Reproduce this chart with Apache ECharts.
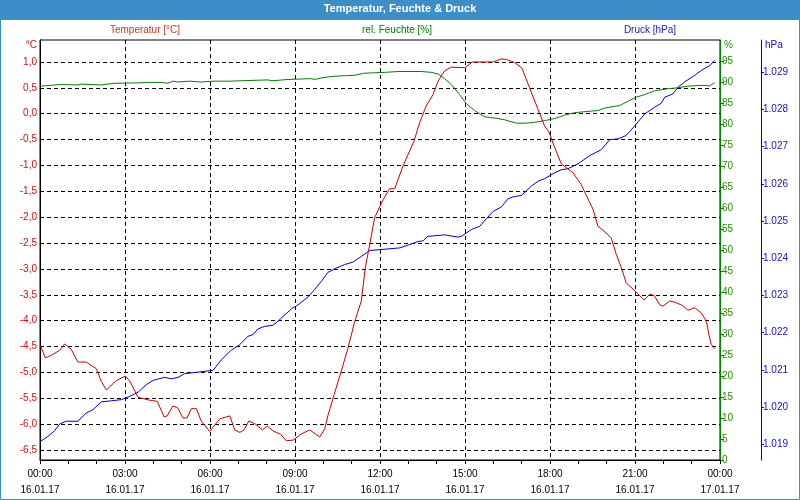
<!DOCTYPE html>
<html>
<head>
<meta charset="utf-8">
<script src="https://cdn.jsdelivr.net/npm/echarts@6/dist/echarts.min.js"></script>
<style>
html,body{margin:0;padding:0;background:#fff;}
#chart{width:800px;height:500px;}
</style>
</head>
<body>
<div id="chart"></div>
<script>
// ---- data (hour of day, value) ----
var temperature = [[0.02,-4.49],[0.19,-4.72],[0.40,-4.67],[0.70,-4.57],[0.87,-4.45],[1.10,-4.55],[1.34,-4.80],[1.63,-4.80],[1.99,-4.93],[2.16,-5.17],[2.34,-5.34],[2.69,-5.16],[3.01,-5.07],[3.17,-5.17],[3.46,-5.48],[3.81,-5.53],[4.14,-5.56],[4.38,-5.86],[4.49,-5.84],[4.69,-5.65],[4.85,-5.68],[5.05,-5.88],[5.19,-5.88],[5.34,-5.70],[5.52,-5.70],[5.69,-5.94],[5.99,-6.14],[6.34,-5.90],[6.70,-5.84],[6.87,-6.11],[7.05,-6.16],[7.20,-6.11],[7.37,-5.94],[7.58,-5.99],[7.85,-6.11],[8.02,-6.04],[8.22,-6.13],[8.50,-6.20],[8.69,-6.32],[8.93,-6.31],[9.22,-6.19],[9.52,-6.11],[9.87,-6.25],[10.05,-6.09],[10.17,-5.82],[10.38,-5.43],[10.63,-4.98],[10.87,-4.53],[11.11,-4.01],[11.34,-3.62],[11.48,-2.98],[11.66,-2.46],[11.81,-2.01],[11.99,-1.80],[12.11,-1.66],[12.34,-1.45],[12.52,-1.45],[12.81,-1.01],[13.20,-0.53],[13.40,-0.17],[13.63,0.15],[13.87,0.37],[14.05,0.63],[14.28,0.83],[14.52,0.90],[14.99,0.89],[15.26,1.00],[15.99,1.00],[16.28,1.06],[16.46,1.05],[16.75,0.99],[17.01,0.88],[17.28,0.50],[17.58,0.08],[17.81,-0.24],[17.96,-0.35],[18.17,-0.66],[18.40,-0.97],[18.81,-1.14],[19.10,-1.37],[19.52,-1.85],[19.69,-2.17],[19.91,-2.27],[20.16,-2.40],[20.34,-2.72],[20.52,-2.98],[20.69,-3.27],[21.01,-3.43],[21.32,-3.60],[21.52,-3.49],[21.67,-3.51],[21.87,-3.69],[21.99,-3.72],[22.22,-3.62],[22.40,-3.64],[22.69,-3.71],[22.87,-3.80],[23.11,-3.75],[23.34,-3.85],[23.52,-4.01],[23.61,-4.27],[23.69,-4.46],[23.81,-4.54]];

var humidity = [[0,89.0],[0.74,89.4],[1.34,89.3],[1.45,89.5],[2.15,89.3],[2.64,89.7],[3.56,89.8],[3.70,89.9],[4.27,89.9],[4.52,89.7],[4.69,90.2],[4.87,90.0],[5.28,90.2],[5.69,90.0],[6.11,90.2],[6.74,90.2],[7.09,90.3],[8.05,90.5],[8.15,90.3],[8.40,90.4],[8.75,90.6],[9.56,90.8],[9.69,90.6],[9.92,90.95],[10.27,91.3],[10.75,91.5],[11.11,91.6],[11.46,92.1],[11.81,92.2],[12.20,92.3],[12.64,92.5],[13.46,92.5],[13.81,92.3],[14.05,91.9],[14.28,90.8],[14.52,89.4],[14.81,87.0],[15.05,84.8],[15.34,83.2],[15.69,81.7],[16.16,81.3],[16.40,81.0],[16.81,80.2],[17.16,80.2],[17.46,80.4],[17.81,80.8],[18.17,81.3],[18.52,82.1],[18.87,82.7],[19.34,83.0],[19.69,83.2],[19.93,83.8],[20.46,84.4],[20.75,85.4],[21.05,86.4],[21.34,87.0],[21.69,87.9],[22.05,88.3],[22.46,88.6],[22.87,89.0],[23.34,89.2],[23.64,89.1],[23.81,89.8]];

var pressure = [[0.02,1.01908],[0.28,1.01921],[0.52,1.01937],[0.70,1.01955],[0.93,1.01962],[1.34,1.01962],[1.63,1.01984],[1.87,1.01993],[2.16,1.02014],[2.52,1.02017],[2.87,1.02020],[3.17,1.02029],[3.46,1.02040],[3.75,1.02060],[3.99,1.02072],[4.40,1.02080],[4.63,1.02076],[4.87,1.02080],[5.11,1.02090],[5.58,1.02094],[6.11,1.02099],[6.40,1.02127],[6.75,1.02153],[7.05,1.02168],[7.34,1.02190],[7.52,1.02195],[7.69,1.02210],[7.93,1.02217],[8.22,1.02220],[8.40,1.02231],[8.87,1.02264],[9.11,1.02275],[9.46,1.02296],[9.69,1.02316],[9.93,1.02338],[10.16,1.02362],[10.40,1.02372],[10.75,1.02383],[11.05,1.02390],[11.34,1.02405],[11.64,1.02421],[12.11,1.02424],[12.70,1.02428],[13.05,1.02437],[13.34,1.02445],[13.52,1.02447],[13.69,1.02459],[14.28,1.02463],[14.75,1.02457],[14.87,1.02459],[15.22,1.02477],[15.52,1.02486],[15.75,1.02506],[15.99,1.02526],[16.28,1.02538],[16.52,1.02560],[16.69,1.02565],[16.99,1.02569],[17.34,1.02594],[17.58,1.02607],[17.81,1.02614],[18.17,1.02630],[18.40,1.02638],[18.64,1.02641],[18.99,1.02654],[19.40,1.02676],[19.81,1.02692],[20.11,1.02719],[20.40,1.02721],[20.69,1.02730],[20.99,1.02756],[21.34,1.02788],[21.69,1.02806],[21.93,1.02817],[22.05,1.02833],[22.34,1.02842],[22.52,1.02860],[22.75,1.02874],[23.11,1.02892],[23.34,1.02905],[23.64,1.02918],[23.81,1.02932]];

// ---- tick labels ----
var timeLabels = ['00:00','03:00','06:00','09:00','12:00','15:00','18:00','21:00','00:00'];
var dateLabels = ['16.01.17','16.01.17','16.01.17','16.01.17','16.01.17','16.01.17','16.01.17','16.01.17','17.01.17'];
var tempTicks = [-6.5,-6.0,-5.5,-5.0,-4.5,-4.0,-3.5,-3.0,-2.5,-2.0,-1.5,-1.0,-0.5,0.0,0.5,1.0];
var pressTicks = [1.019,1.020,1.021,1.022,1.023,1.024,1.025,1.026,1.027,1.028,1.029];

var FONT = 'Liberation Sans';
var RED = '#cc0000', REDTXT = '#d01010';
var GREEN = '#008000', GREENTXT = '#2a8a00';
var BLUE = '#0000cc', BLUETXT = '#1010cc';
var BAR = '#3c8fc6';

var chart = echarts.init(document.getElementById('chart'), null, {renderer: 'canvas'});
chart.setOption({
  animation: false,
  backgroundColor: '#fff',
  textStyle: {fontFamily: FONT},
  graphic: [
    {type: 'rect', z: -10, silent: true, shape: {x: 0, y: 0, width: 800, height: 20}, style: {fill: BAR}},
    {type: 'rect', z: -10, silent: true, shape: {x: 0.5, y: 0.5, width: 799, height: 499}, style: {fill: 'none', stroke: BAR, lineWidth: 1}}
  ],
  title: [
    {text: 'Temperatur, Feuchte & Druck', left: 400, textAlign: 'center', top: 3, padding: 0,
     textStyle: {color: '#fff', fontSize: 11, fontWeight: 'bold', fontFamily: FONT}},
    {text: 'Temperatur [°C]', left: 145, textAlign: 'center', top: 25, padding: 0,
     textStyle: {color: '#c83a1a', fontSize: 10, fontWeight: 'normal', fontFamily: FONT}},
    {text: 'rel. Feuchte [%]', left: 397, textAlign: 'center', top: 25, padding: 0,
     textStyle: {color: GREEN, fontSize: 10, fontWeight: 'normal', fontFamily: FONT}},
    {text: 'Druck [hPa]', left: 650, textAlign: 'center', top: 25, padding: 0,
     textStyle: {color: '#1a1ab0', fontSize: 10, fontWeight: 'normal', fontFamily: FONT}}
  ],
  grid: {left: 40, right: 80, top: 40, bottom: 40, show: true, borderColor: '#000', borderWidth: 1, backgroundColor: 'transparent'},
  xAxis: {
    type: 'value', min: 0, max: 24, interval: 3,
    axisLine: {onZero: false, lineStyle: {color: '#000', width: 1}},
    axisTick: {show: true, length: 4, lineStyle: {color: '#000'}},
    minorTick: {show: true, splitNumber: 3, length: 4, lineStyle: {color: '#000'}},
    splitLine: {show: true, lineStyle: {color: '#000', type: [4, 3], width: 1}},
    axisLabel: {
      margin: 6, color: '#000', fontSize: 10, fontFamily: FONT, lineHeight: 16,
      formatter: function (v) { var i = Math.round(v / 3); return timeLabels[i] + '\n' + dateLabels[i]; }
    }
  },
  yAxis: [
    {
      type: 'value', position: 'left', min: -6.693, max: 1.4255,
      name: '°C', nameLocation: 'end', nameGap: -5,
      nameTextStyle: {color: REDTXT, fontSize: 10, fontFamily: FONT, align: 'right', verticalAlign: 'middle', padding: [0, 3, 0, 0]},
      axisLine: {show: true, onZero: false, lineStyle: {color: '#000'}},
      axisTick: {show: false, customValues: tempTicks},
      splitLine: {show: true, lineStyle: {color: '#000', type: [4, 3], width: 1}},
      axisLabel: {customValues: tempTicks, margin: 3, color: REDTXT, fontSize: 10, fontFamily: FONT,
        formatter: function (v) { return v.toFixed(1).replace('.', ','); }}
    },
    {
      type: 'value', position: 'right', offset: 0, min: 0, max: 100, interval: 5,
      name: '%', nameLocation: 'end', nameGap: -5,
      nameTextStyle: {color: GREENTXT, fontSize: 10, fontFamily: FONT, align: 'left', verticalAlign: 'middle', padding: [0, 0, 0, 4]},
      axisLine: {show: true, onZero: false, lineStyle: {color: GREEN, width: 1}},
      axisTick: {show: true, length: 4, lineStyle: {color: GREEN}},
      splitLine: {show: false},
      axisLabel: {margin: 2, color: GREENTXT, fontSize: 10, fontFamily: FONT, showMaxLabel: false,
        formatter: function (v) { return v >= 100 ? '' : String(v); }}
    },
    {
      type: 'value', position: 'right', offset: 41, min: 1.018578, max: 1.029868,
      name: 'hPa', nameLocation: 'end', nameGap: -5,
      nameTextStyle: {color: BLUETXT, fontSize: 10, fontFamily: FONT, align: 'left', verticalAlign: 'middle', padding: [0, 0, 0, 4]},
      axisLine: {show: true, onZero: false, lineStyle: {color: BLUE, width: 1}},
      axisTick: {show: true, length: 3, customValues: pressTicks, lineStyle: {color: BLUE}},
      splitLine: {show: false},
      axisLabel: {customValues: pressTicks, margin: 2, color: BLUETXT, fontSize: 10, fontFamily: FONT,
        formatter: function (v) { return v.toFixed(3); }}
    }
  ],
  series: [
    {name: 'Druck [hPa]', type: 'line', yAxisIndex: 2, data: pressure, showSymbol: false, symbol: 'none',
     lineStyle: {color: BLUE, width: 1}, z: 3},
    {name: 'rel. Feuchte [%]', type: 'line', yAxisIndex: 1, data: humidity, showSymbol: false, symbol: 'none',
     lineStyle: {color: GREEN, width: 1}, z: 4},
    {name: 'Temperatur [°C]', type: 'line', yAxisIndex: 0, data: temperature, showSymbol: false, symbol: 'none',
     lineStyle: {color: RED, width: 1}, z: 5}
  ]
});
</script>
</body>
</html>
